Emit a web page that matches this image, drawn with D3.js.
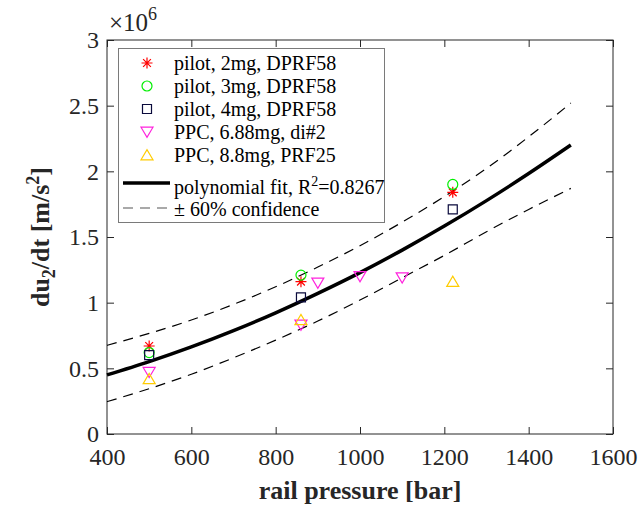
<!DOCTYPE html>
<html lang="en">
<head>
    <meta charset="utf-8"/>
    <style>
        body { margin: 0; background: #fff; }
        svg { display: block; }
        svg text { font-family: "Liberation Serif", "Times New Roman", serif !important; fill: #262626; }
        svg .tick text { font-size: 24px; }
        .lab { font-size: 26px; font-weight: bold; }
        .leg text { font-size: 20px; fill: #000; }
        path.fit { fill: none; stroke: #000; stroke-width: 3.5px; }
        path.band { fill: none; stroke: #000; stroke-width: 1.2px; stroke-dasharray: 10,7; }
    </style>
    <script src="https://cdn.jsdelivr.net/npm/d3@7"></script>
</head>
<body>
<svg id="chart" width="641" height="508"></svg>
<script>
    // measured points, values in 1e6 m/s^2
    var pilotPressure = [500, 860, 1220];
    var pilot2mg = [0.67, 1.16, 1.84];
    var pilot3mg = [0.62, 1.21, 1.90];
    var pilot4mg = [0.60, 1.04, 1.71];
    var ppc688Pressure = [500, 860, 900, 1000, 1100];
    var ppc688 = [0.47, 0.83, 1.15, 1.20, 1.19];
    var ppc88Pressure = [500, 860, 1220];
    var ppc88 = [0.42, 0.87, 1.16];

    // fit and confidence band
    var fitPressure = [400, 500, 600, 700, 800, 900, 1000, 1100, 1200, 1300, 1400, 1500];
    var fitValue = [0.45, 0.551, 0.663, 0.787, 0.923, 1.071, 1.229, 1.400, 1.583, 1.777, 1.983, 2.200];
    var upperValue = [0.675, 0.766, 0.868, 0.987, 1.121, 1.271, 1.434, 1.613, 1.808, 2.022, 2.263, 2.52];
    var lowerValue = [0.246, 0.345, 0.455, 0.58, 0.715, 0.86, 1.02, 1.19, 1.36, 1.54, 1.71, 1.87];

    var xTicks = [400, 600, 800, 1000, 1200, 1400, 1600];
    var yTicks = [0, 0.5, 1, 1.5, 2, 2.5, 3];
    var legendLabels = ['pilot, 2mg, DPRF58', 'pilot, 3mg, DPRF58', 'pilot, 4mg, DPRF58',
        'PPC, 6.88mg, di#2', 'PPC, 8.8mg, PRF25'];

    var svg = d3.select('#chart');
    var L = 107, R = 613, T = 40, B = 434;
    var x = d3.scaleLinear().domain([400, 1600]).range([L, R]);
    var y = d3.scaleLinear().domain([0, 3]).range([B, T]);

    // marker shapes
    function star(s) {
        var d = s * 0.707;
        return 'M' + (-s) + ',0L' + s + ',0M0,' + (-s) + 'L0,' + s +
            'M' + (-d) + ',' + (-d) + 'L' + d + ',' + d + 'M' + (-d) + ',' + d + 'L' + d + ',' + (-d);
    }
    function square(s) { return 'M' + (-s) + ',' + (-s) + 'h' + 2 * s + 'v' + 2 * s + 'h' + (-2 * s) + 'Z'; }
    function triDown(s) { return 'M' + (-s) + ',' + (-s * 0.8) + 'L' + s + ',' + (-s * 0.8) + 'L0,' + s * 0.9 + 'Z'; }
    function triUp(s) { return 'M' + (-s) + ',' + s * 0.8 + 'L' + s + ',' + s * 0.8 + 'L0,' + (-s * 0.9) + 'Z'; }

    var series = [
        {px: pilotPressure, v: pilot2mg, color: '#ff0000', shape: function () { return star(5.5); }},
        {px: pilotPressure, v: pilot3mg, color: '#00ee00', circle: true},
        {px: pilotPressure, v: pilot4mg, color: '#0a0a3c', shape: function () { return square(4.5); }},
        {px: ppc688Pressure, v: ppc688, color: '#ff22dd', shape: function () { return triDown(6); }},
        {px: ppc88Pressure, v: ppc88, color: '#ffcc00', shape: function () { return triUp(6); }}
    ];

    // axes box
    svg.append('rect').attr('x', L).attr('y', T).attr('width', R - L).attr('height', B - T)
        .attr('fill', 'none').attr('stroke', '#262626').attr('stroke-width', 1);

    var fmt = function (d) { return String(d); };
    var xAxis = svg.append('g').attr('transform', 'translate(0,' + B + ')')
        .call(d3.axisBottom(x).tickValues(xTicks).tickSizeInner(-7).tickSizeOuter(0).tickPadding(14).tickFormat(fmt));
    svg.append('g').attr('transform', 'translate(0,' + T + ')')
        .call(d3.axisTop(x).tickValues(xTicks).tickSizeInner(-7).tickSizeOuter(0).tickFormat(''));
    svg.append('g').attr('transform', 'translate(' + L + ',0)')
        .call(d3.axisLeft(y).tickValues(yTicks).tickSizeInner(-7).tickSizeOuter(0).tickPadding(8).tickFormat(fmt));
    svg.append('g').attr('transform', 'translate(' + R + ',0)')
        .call(d3.axisRight(y).tickValues(yTicks).tickSizeInner(-7).tickSizeOuter(0).tickFormat(''));
    svg.selectAll('.domain').remove();
    svg.selectAll('.tick line').attr('stroke', '#262626');
    svg.selectAll('g[font-family]').attr('font-family', null).attr('font-size', null);
    xAxis.selectAll('text').attr('dy', '0.72em');

    // exponent label
    var ex = svg.append('text').attr('x', 109).attr('y', 31).style('font-size', '25px');
    ex.append('tspan').text('\u00d710');
    ex.append('tspan').attr('dy', -11).style('font-size', '18px').text('6');

    // fit and band lines
    var line = d3.line().x(function (d) { return x(d[0]); }).y(function (d) { return y(d[1]); })
        .curve(d3.curveMonotoneX);
    svg.append('path').attr('class', 'band').attr('d', line(d3.zip(fitPressure, upperValue)));
    svg.append('path').attr('class', 'band').attr('d', line(d3.zip(fitPressure, lowerValue)));
    svg.append('path').attr('class', 'fit').attr('d', line(d3.zip(fitPressure, fitValue)));

    // markers
    function drawMarker(g, s) {
        if (s.circle) {
            g.append('circle').attr('r', 5).attr('fill', 'none').attr('stroke', s.color).attr('stroke-width', 1.2);
        } else {
            g.append('path').attr('d', s.shape()).attr('fill', 'none').attr('stroke', s.color).attr('stroke-width', 1.2);
        }
    }
    series.forEach(function (s) {
        d3.zip(s.px, s.v).forEach(function (p) {
            drawMarker(svg.append('g').attr('transform', 'translate(' + x(p[0]) + ',' + y(p[1]) + ')'), s);
        });
    });

    // legend
    var leg = svg.append('g').attr('class', 'leg');
    leg.append('rect').attr('x', 118.5).attr('y', 48.5).attr('width', 266).attr('height', 174)
        .attr('fill', '#fff').attr('stroke', '#7a7a7a').attr('stroke-width', 1);
    var rowY = [63, 86, 109, 132, 155];
    series.forEach(function (s, i) {
        drawMarker(leg.append('g').attr('transform', 'translate(147,' + rowY[i] + ')'), s);
        leg.append('text').attr('x', 174).attr('y', rowY[i] + 7).text(legendLabels[i]);
    });
    leg.append('line').attr('x1', 123).attr('x2', 170).attr('y1', 183).attr('y2', 183)
        .attr('stroke', '#000').attr('stroke-width', 3.5);
    var ft = leg.append('text').attr('x', 174).attr('y', 194);
    ft.append('tspan').text('polynomial fit, R');
    ft.append('tspan').attr('dy', -8).style('font-size', '14px').text('2');
    ft.append('tspan').attr('dy', 8).text('=0.8267');
    leg.append('line').attr('x1', 123).attr('x2', 170).attr('y1', 208).attr('y2', 208)
        .attr('stroke', '#555').attr('stroke-width', 1.2).attr('stroke-dasharray', '10,7');
    leg.append('text').attr('x', 174).attr('y', 216).text('\u00b1 60% confidence');

    // axis labels
    svg.append('text').attr('class', 'lab').attr('x', 360).attr('y', 499)
        .attr('text-anchor', 'middle').text('rail pressure [bar]');
    var yl = svg.append('text').attr('class', 'lab').attr('text-anchor', 'middle')
        .attr('transform', 'translate(49,237) rotate(-90)');
    yl.append('tspan').text('du');
    yl.append('tspan').attr('dy', 6).style('font-size', '18px').text('2');
    yl.append('tspan').attr('dy', -6).text('/dt [m/s');
    yl.append('tspan').attr('dy', -10).style('font-size', '18px').text('2');
    yl.append('tspan').attr('dy', 10).text(']');
</script>
</body>
</html>
